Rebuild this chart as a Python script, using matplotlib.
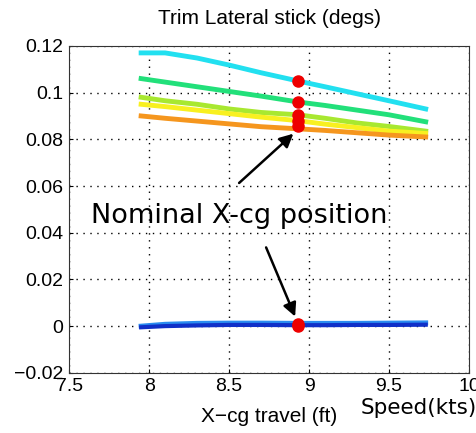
import matplotlib.pyplot as plt

# X-cg travel (ft)
xcg = [7.95, 8.1, 8.3, 8.5, 8.7, 8.93, 9.1, 9.3, 9.5, 9.73]

# trim lateral stick per speed case (degs)
cyan = [0.117, 0.117, 0.1148, 0.1118, 0.1085, 0.105, 0.1025, 0.0995, 0.0965, 0.093]
green = [0.106, 0.1045, 0.1025, 0.1005, 0.0985, 0.096, 0.0945, 0.0925, 0.0905, 0.0875]
ygreen = [0.098, 0.0965, 0.095, 0.093, 0.0915, 0.0905, 0.089, 0.087, 0.0855, 0.0835]
yellow = [0.095, 0.094, 0.0925, 0.091, 0.0895, 0.088, 0.0865, 0.085, 0.0835, 0.0825]
orange = [0.090, 0.089, 0.0878, 0.0866, 0.0854, 0.0845, 0.0838, 0.0828, 0.0818, 0.081]
blue1 = [0.0, 0.0008, 0.0012, 0.0013, 0.0013, 0.0012, 0.0012, 0.0012, 0.0013, 0.0014]
blue2 = [-0.0005, 0.0, 0.0003, 0.0005, 0.0005, 0.0004, 0.0004, 0.0005, 0.0005, 0.0006]

nominal_x = 8.93
nominal_y = [0.105, 0.096, 0.0905, 0.088, 0.0855, 0.0008, 0.0]

plt.rcParams['font.family'] = ['Liberation Sans', 'DejaVu Sans']

fig = plt.figure(figsize=(4.77, 4.33), dpi=100)
ax = fig.add_axes([0.145, 0.139, 0.838, 0.755])

ax.plot(xcg, cyan, color='#22e0f0', lw=3.5)
ax.plot(xcg, green, color='#22e07a', lw=3.5)
ax.plot(xcg, ygreen, color='#a8e830', lw=3.5)
ax.plot(xcg, yellow, color='#f8f020', lw=3.5)
ax.plot(xcg, orange, color='#f5961e', lw=3.5)
ax.plot(xcg, blue1, color='#2a8cf0', lw=3.5)
ax.plot(xcg, blue2, color='#1030c8', lw=3)

ax.plot([nominal_x] * len(nominal_y), nominal_y, 'o', color='#ee0000',
        ms=8, zorder=5)

ax.set_xlim(7.5, 10)
ax.set_ylim(-0.02, 0.12)
ax.set_xticks([7.5, 8, 8.5, 9, 9.5, 10])
ax.set_xticklabels(['7.5', '8', '8.5', '9', '9.5', '10'])
ax.set_yticks([-0.02, 0, 0.02, 0.04, 0.06, 0.08, 0.1, 0.12])
ax.set_yticklabels(['\u22120.02', '0', '0.02', '0.04', '0.06', '0.08', '0.1', '0.12'])
ax.tick_params(labelsize=14, direction='in', length=3, pad=4)
ax.grid(True, color='black', linestyle=(0, (1, 4)), lw=1)
for s in ax.spines.values():
    s.set_color('#333333')

ax.set_title('Trim Lateral stick (degs)', fontsize=15, pad=16)
ax.set_xlabel('X\u2212cg travel (ft)', fontsize=15)
ax.xaxis.set_label_coords(0.5, -0.105)

fig.text(0.19, 0.502, 'Nominal X-cg position', fontsize=19.5,
         family=['DejaVu Sans'], va='center', ha='left')
ax.annotate('', xy=(8.915, 0.0832), xytext=(8.55, 0.0605),
            arrowprops=dict(arrowstyle='-|>', color='black', lw=1.8,
                            mutation_scale=20))
ax.annotate('', xy=(8.92, 0.003), xytext=(8.725, 0.0348),
            arrowprops=dict(arrowstyle='-|>', color='black', lw=1.8,
                            mutation_scale=20))

fig.text(0.755, 0.058, 'Speed(kts)', fontsize=15.5, family=['DejaVu Sans'],
         va='center', ha='left')

fig.savefig('out.png', dpi=100)
